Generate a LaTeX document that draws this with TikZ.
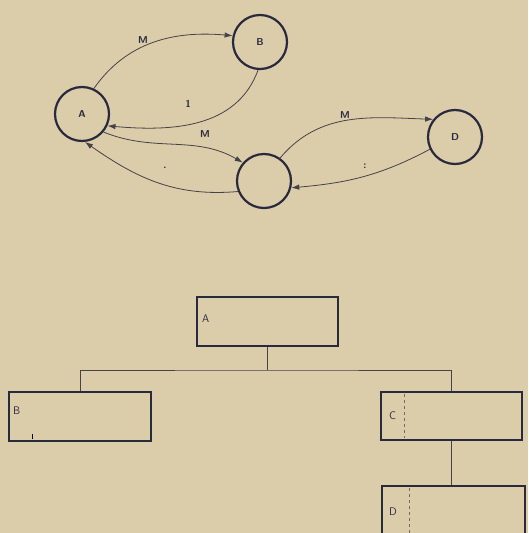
\documentclass[tikz,border=0pt]{standalone}
\usetikzlibrary{arrows.meta}
\definecolor{paper}{RGB}{219,204,170}
\definecolor{ink}{RGB}{42,42,62}
\definecolor{thin}{RGB}{70,66,72}
\begin{document}
\begin{tikzpicture}[x=1pt,y=1pt,
  state/.style={circle,draw=ink,line width=2.2pt,minimum size=54pt,inner sep=0pt,
    font=\fontsize{10}{11}\sffamily\bfseries,text=ink},
  edge/.style={draw=thin,line width=0.8pt,-{Latex[length=8pt,width=5.5pt]}},
  elab/.style={font=\fontsize{10}{11}\sffamily\bfseries,text=ink,inner sep=1pt},
  box/.style={rectangle,draw=ink,line width=2.6pt,inner sep=0pt},
  blab/.style={font=\fontsize{11}{12}\sffamily,text=ink,inner sep=0pt,anchor=west},
  tree/.style={draw=thin,line width=0.8pt},
  inner/.style={draw=thin!70!paper,line width=0.6pt,dashed}]
\fill[paper] (0,0) rectangle (528,-533);
\useasboundingbox (0,0) rectangle (528,-533);
% state graph
\node[state] (A) at (82,-114) {A};
\node[state] (B) at (260,-42) {B};
\node[state] (C) at (264,-181) {};
\node[state] (D) at (455,-137) {D};
\draw[edge] (A.65) to[out=55,in=175] (B.167);
\draw[edge] (B.266) to[out=250,in=-5] (A.-25);
\draw[edge] (A.-40) to[out=-22,in=150] (C.139);
\draw[edge] (C.202) to[out=185,in=-35] (A.-84);
\draw[edge] (C.55) to[out=50,in=178] (D.141);
\draw[edge] (D.206) to[out=208,in=5] (C.-14);
\node[elab] (l1) at (143,-40) {M};
\node[elab] (l2) at (188,-104) {1};
\node[elab] (l3) at (205,-134) {M};
\node[elab] (l4) at (165,-168) {.};
\node[elab] (l5) at (345,-115) {M};
\node[elab] (l6) at (365,-166) {:};
% tree
\node[box,minimum width=141pt,minimum height=49pt] (bA) at (267.5,-321.5) {};
\node[box,minimum width=142pt,minimum height=49pt] (bB) at (80,-416.5) {};
\node[box,minimum width=141pt,minimum height=48pt] (bC) at (451.5,-416) {};
\node[box,minimum width=143pt,minimum height=60pt] (bD) at (453.5,-516) {};
\node[blab] (tA) at (202,-319) {A};
\node[blab] (tB) at (13,-411) {B};
\node[blab] (tC) at (389,-416) {C};
\node[blab] (tD) at (389,-512) {D};
\coordinate (hb) at (267.5,-370);
\draw[tree] (bA.south) -- (hb);
\draw[tree] (bB.north) |- (hb) -| (bC.north);
\draw[tree] (bC.south) -- (bC.south |- bD.north);
\draw[inner] (404,-394) -- (404,-438);
\draw[inner] (409,-488) -- (409,-533);
\draw[thin,line width=0.8pt] (32,-439) -- (32,-434);
\end{tikzpicture}
\end{document}
